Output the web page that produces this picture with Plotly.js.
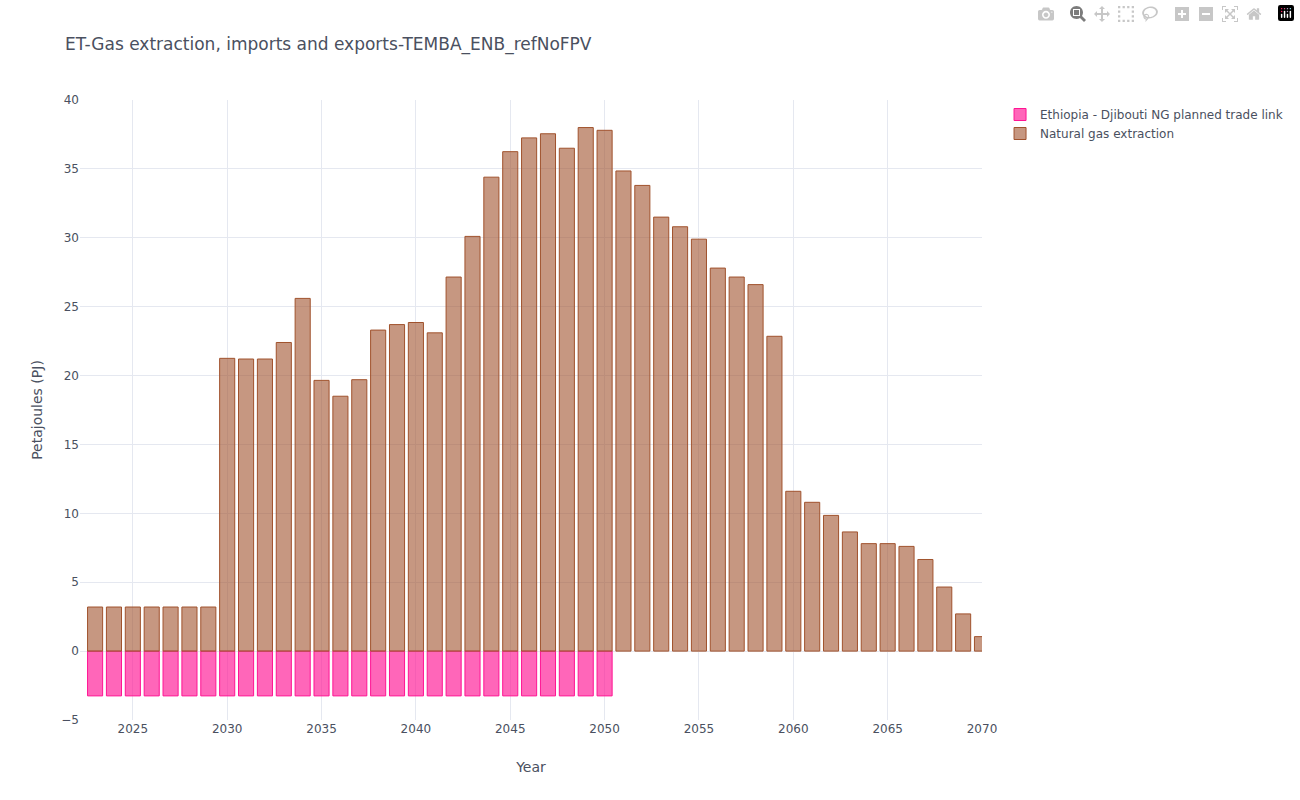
<!DOCTYPE html>
<html>
<head>
<meta charset="utf-8">
<script src="https://cdn.plot.ly/plotly-3.0.1.min.js"></script>
<style>body{margin:0;} #chart{width:1300px;height:800px;}</style>
</head>
<body>
<div id="chart"></div>
<script>
var years = [];
for (var y = 2023; y <= 2070; y++) years.push(y);

var tradeYears = [2023,2024,2025,2026,2027,2028,2029,2030,2031,2032,2033,2034,2035,2036,2037,2038,2039,2040,2041,2042,2043,2044,2045,2046,2047,2048,2049,2050];
var tradeValues = [-3.25,-3.25,-3.25,-3.25,-3.25,-3.25,-3.25,-3.25,-3.25,-3.25,-3.25,-3.25,-3.25,-3.25,-3.25,-3.25,-3.25,-3.25,-3.25,-3.25,-3.25,-3.25,-3.25,-3.25,-3.25,-3.25,-3.25,-3.25];

var gasValues = [3.2,3.2,3.2,3.2,3.2,3.2,3.2,21.25,21.2,21.2,22.4,25.6,19.65,18.5,19.7,23.3,23.7,23.85,23.1,27.15,30.1,34.4,36.25,37.25,37.55,36.5,38.0,37.8,
  34.85,33.8,31.5,30.8,29.9,27.8,27.15,26.6,22.85,11.6,10.8,9.85,8.65,7.8,7.8,7.6,6.65,4.65,2.7,1.05];

var data = [
  { x: tradeYears, y: tradeValues, name: 'Ethiopia - Djibouti NG planned trade link', type: 'bar',
    marker: { color: 'rgba(255,20,147,0.65)', line: { color: '#ff1493', width: 1 } } },
  { x: years, y: gasValues, name: 'Natural gas extraction', type: 'bar',
    marker: { color: 'rgba(160,82,45,0.6)', line: { color: '#a0522d', width: 1 } } }
];

var layout = {
  template: 'plotly_white',
  barmode: 'relative',
  width: 1300, height: 800,
  font: { family: 'DejaVu Sans, sans-serif', color: '#2a3f5f', size: 12 },
  title: { text: 'ET-Gas extraction, imports and exports-TEMBA_ENB_refNoFPV', x: 0.05, font: { size: 17, color: '#4a5060' } },
  margin: { l: 80, r: 318, t: 100, b: 80 },
  xaxis: { title: { text: 'Year', font: { size: 14, color: '#4a5060' } }, range: [2022.2, 2070], dtick: 5,
           gridcolor: '#e5e8f0', tickfont: { color: '#4a5060' }, zeroline: false },
  yaxis: { title: { text: 'Petajoules (PJ)', font: { size: 14, color: '#4a5060' } }, range: [-5, 40], dtick: 5,
           gridcolor: '#e5e8f0', zerolinecolor: '#e5e8f0', tickfont: { color: '#4a5060' } },
  legend: { x: 1.02, y: 1, font: { color: '#4a5060' } },
  plot_bgcolor: 'white', paper_bgcolor: 'white'
};

Plotly.newPlot('chart', data, layout);
</script>
</body>
</html>
